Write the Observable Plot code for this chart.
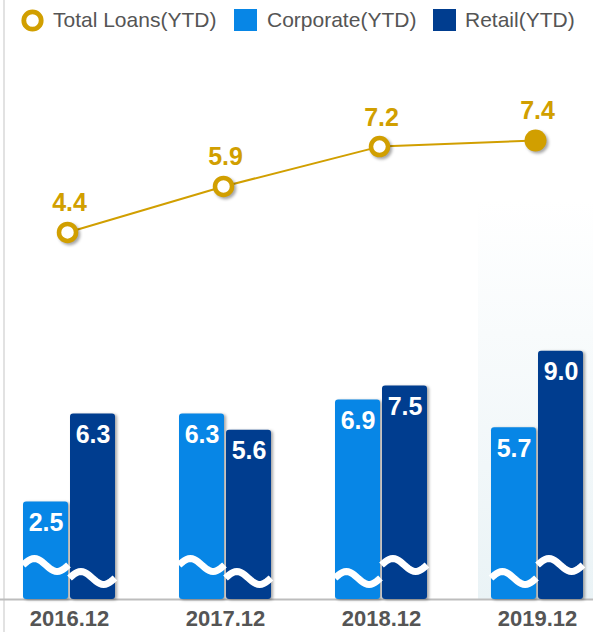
<!DOCTYPE html>
<html>
<head>
<meta charset="utf-8">
<script src="https://cdn.jsdelivr.net/npm/d3@7"></script>
<script src="https://cdn.jsdelivr.net/npm/@observablehq/plot@0.6"></script>
<style>
  html, body { margin: 0; padding: 0; background: #fff; }
  #root { position: relative; width: 593px; height: 632px; overflow: hidden; font-family: "Liberation Sans", Arial, sans-serif; }
  #legend { position: absolute; left: 0; top: 0; width: 593px; height: 40px; }
  #legend .lab { position: absolute; top: 0; line-height: 40px; font-size: 21px; color: #555; white-space: nowrap; }
  #legend .sw { position: absolute; top: 9px; width: 23px; height: 22px; }
  #leftline { position: absolute; left: 3px; top: 0; width: 2px; height: 632px; background: #e2e2e2; }
  #glow { position: absolute; left: 478px; top: 200px; width: 115px; height: 400px;
          background: linear-gradient(to bottom, rgba(240,246,249,0), #eaf3f6); }
  .layer { position: absolute; left: 0; top: 40px; }
  .layer g[aria-label="rect"] { filter: drop-shadow(2px 1px 1.5px rgba(0,0,0,0.35)); }
  .layer g[aria-label="dot"] { filter: drop-shadow(2px 2px 1.5px rgba(0,0,0,0.35)); }
</style>
</head>
<body>
<div id="root">
  <div id="glow"></div>
  <div id="leftline"></div>
  <div id="legend"></div>
</div>
<script>
// ---- data ----
const years = ["2016.12", "2017.12", "2018.12", "2019.12"];
const totalLoans = [4.4, 5.9, 7.2, 7.4];
const corporate = [2.5, 6.3, 6.9, 5.7];
const retail = [6.3, 5.6, 7.5, 9.0];
const seriesNames = ["Total Loans(YTD)", "Corporate(YTD)", "Retail(YTD)"];

// ---- styles ----
const GOLD = "#D19F00";
const BLUE = "#0786E6";
const NAVY = "#003D8F";
const BAR_FLOOR = -1.7;          // broken axis floor of the bar scale
const waveHigh = ["Corporate", "Corporate", "Retail", "Retail"]; // which bar carries the higher wave

const corpRows = years.map((year, i) => ({year, value: corporate[i]}));
const retailRows = years.map((year, i) => ({year, value: retail[i]}));
const totalRows = years.map((year, i) => ({year, value: totalLoans[i], latest: i === years.length - 1}));

const W = 593, H = 592;
const xScale = {type: "band", domain: years, range: [0, 607], paddingInner: 0.4076, paddingOuter: 0.137, align: 0.5};

// legend
const legend = document.getElementById("legend");
legend.innerHTML = `
  <svg style="position:absolute;left:20px;top:8px" width="25" height="25"><circle cx="12.5" cy="12.5" r="8.7" fill="#fff" stroke="${GOLD}" stroke-width="4.8"/></svg>
  <span class="lab" style="left:53px">${seriesNames[0]}</span>
  <div class="sw" style="left:234px;background:${BLUE}"></div>
  <span class="lab" style="left:267px">${seriesNames[1]}</span>
  <div class="sw" style="left:433px;background:${NAVY}"></div>
  <span class="lab" style="left:465px">${seriesNames[2]}</span>`;

function waves(...args) {
  const scales = args.find(a => a && typeof a.x === "function" && typeof a.y === "function");
  const g = d3.create("svg:g").attr("aria-label", "waves");
  const bwRaw = scales.x.bandwidth;
  const bw = typeof bwRaw === "function" ? bwRaw() : (bwRaw ?? 93);
  const half = (bw - 1) / 2;
  const base = scales.y(BAR_FLOOR);
  const line = d3.line();
  years.forEach((year, i) => {
    const x0 = scales.x(year);
    [["Corporate", x0, x0 + half], ["Retail", x0 + half + 1, x0 + bw]].forEach(([name, a, b]) => {
      const c = base - (waveHigh[i] === name ? 34 : 21);
      const pts = d3.range(0, 25).map(k => {
        const t = k / 24;
        return [a + (b - a) * t, c - 6.5 * Math.sin(2 * Math.PI * t)];
      });
      g.append("path").attr("d", line(pts)).attr("fill", "none")
        .attr("stroke", "#fff").attr("stroke-width", 7);
    });
  });
  return g.node();
}

const bars = Plot.plot({
  width: W, height: H,
  marginTop: 0, marginBottom: 33, marginLeft: 0, marginRight: 0,
  style: {background: "transparent", fontFamily: "'Liberation Sans', Arial, sans-serif", fontSize: "22px", fontWeight: "bold", color: "#555", overflow: "visible"},
  x: {...xScale, tickSize: 0, tickPadding: 11, label: null},
  y: {domain: [BAR_FLOOR, 22.4], axis: null},
  marks: [
    Plot.ruleY([BAR_FLOOR], {stroke: "#bdbdbd", strokeWidth: 2}),
    Plot.rectY(corpRows, {x: "year", y1: () => BAR_FLOOR, y2: "value", fill: BLUE, insetRight: 47, rx: 3}),
    Plot.rectY(retailRows, {x: "year", y1: () => BAR_FLOOR, y2: "value", fill: NAVY, insetLeft: 47, rx: 3}),
    waves,
    Plot.text(corpRows, {x: "year", y: "value", text: d => d.value.toFixed(1), dx: -23.5, dy: 21, fill: "#fff", fontSize: 25, fontWeight: "bold"}),
    Plot.text(retailRows, {x: "year", y: "value", text: d => d.value.toFixed(1), dx: 23.5, dy: 21, fill: "#fff", fontSize: 25, fontWeight: "bold"})
  ]
});
bars.classList.add("layer");

const lineChart = Plot.plot({
  width: W, height: H,
  marginTop: 0, marginBottom: 33, marginLeft: 0, marginRight: 0,
  style: {background: "transparent", fontFamily: "'Liberation Sans', Arial, sans-serif", overflow: "visible"},
  x: {...xScale, axis: null},
  y: {domain: [-7.57, 10.66], axis: null},
  marks: [
    Plot.line(totalRows, {x: "year", y: "value", stroke: GOLD, strokeWidth: 2, dx: -2}),
    Plot.dot(totalRows.filter(d => !d.latest), {x: "year", y: "value", r: 8.5, fill: "#fff", stroke: GOLD, strokeWidth: 4.5, dx: -2}),
    Plot.dot(totalRows.filter(d => d.latest), {x: "year", y: "value", r: 11, fill: GOLD, dx: -2}),
    Plot.text(totalRows, {x: "year", y: "value", text: d => d.value.toFixed(1), dy: -29, fill: GOLD, fontSize: 25, fontWeight: "bold"})
  ]
});
lineChart.classList.add("layer");

const root = document.getElementById("root");
root.appendChild(bars);
root.appendChild(lineChart);
</script>
</body>
</html>
